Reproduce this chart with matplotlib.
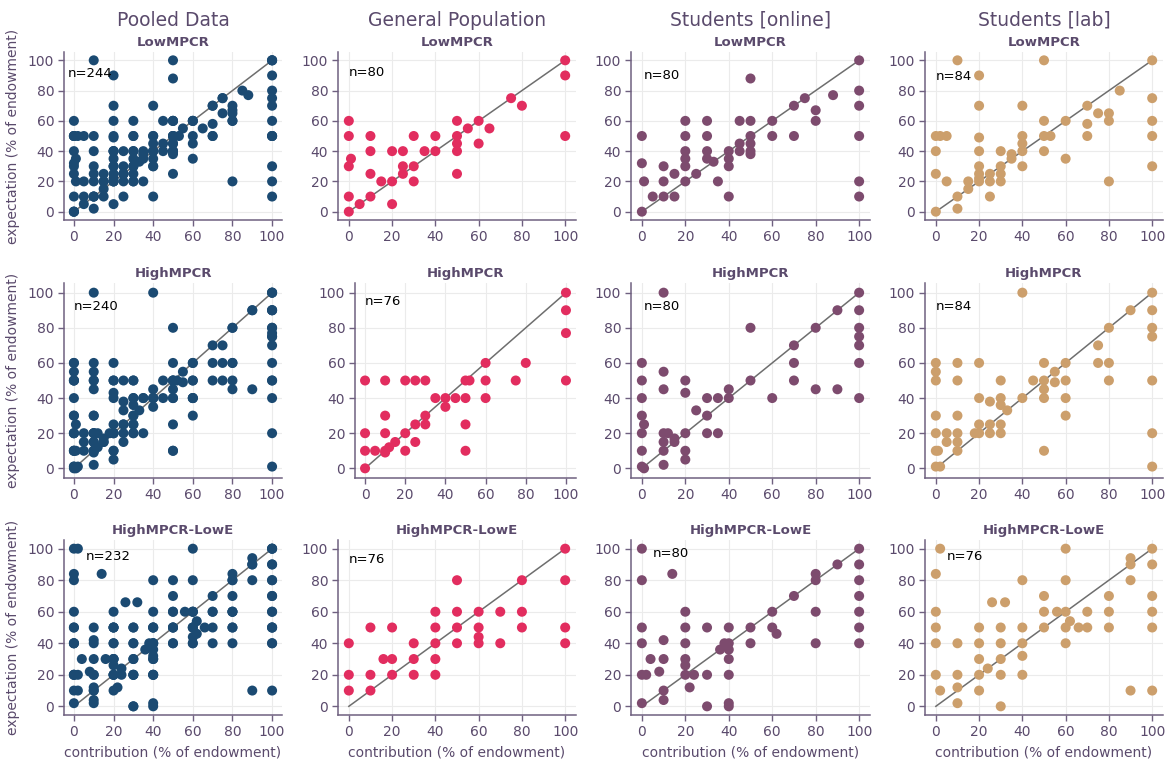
import matplotlib
matplotlib.use("Agg")
import matplotlib.pyplot as plt

# ---- data (contribution, expectation) ----
groups = ["General Population", "Students [online]", "Students [lab]"]
treatments = ["LowMPCR", "HighMPCR", "HighMPCR-LowE"]
n_obs = [[244, 80, 80, 84],
         [240, 76, 80, 84],
         [232, 76, 80, 76]]

gp_low_x = [0, 0, 0, 1, 0, 0, 5, 10, 10, 10, 10, 15, 20, 20, 20, 25, 25, 25, 30, 30, 30, 35, 40, 40,
            50, 50, 50, 50, 50, 55, 60, 60, 65, 75, 80, 100, 100, 100]
gp_low_y = [60, 50, 30, 35, 10, 0, 5, 50, 40, 25, 10, 20, 40, 20, 5, 40, 30, 25, 50, 30, 20, 40, 50, 40,
            60, 50, 45, 40, 25, 55, 60, 45, 55, 75, 70, 100, 90, 50]

on_low_x = [0, 0, 1, 0, 5, 10, 10, 10, 15, 15, 20, 20, 20, 20, 20, 20, 25, 30, 30, 30, 30, 33, 35, 40, 40,
            40, 40, 45, 45, 45, 50, 50, 50, 50, 50, 50, 60, 60, 70, 70, 75, 80, 80, 88, 100, 100, 100, 100,
            100, 100]
on_low_y = [50, 32, 20, 0, 10, 30, 20, 10, 25, 10, 60, 50, 40, 35, 30, 20, 25, 60, 50, 40, 35, 33, 20, 40, 35,
            30, 10, 60, 45, 40, 88, 60, 50, 45, 40, 38, 60, 50, 70, 50, 75, 67, 60, 77, 100, 80, 70, 50,
            20, 10]

lab_low_x = [0, 2, 0, 0, 0, 5, 5, 10, 10, 10, 15, 15, 20, 20, 20, 20, 20, 20, 20, 20, 25, 25, 25, 30, 30, 30,
             30, 35, 35, 40, 40, 40, 40, 40, 50, 50, 50, 50, 53, 60, 60, 70, 70, 70, 75, 80, 80, 80, 85, 100,
             100, 100, 100, 100]
lab_low_y = [50, 50, 40, 25, 0, 50, 20, 100, 10, 2, 20, 15, 90, 70, 49, 40, 30, 25, 22, 20, 25, 20, 10, 40, 30,
             25, 20, 38, 35, 70, 50, 45, 40, 30, 100, 60, 50, 40, 50, 60, 35, 70, 58, 50, 65, 65, 60, 20, 80,
             100, 75, 60, 50, 30]

gp_high_x = [0, 0, 0, 0, 5, 10, 10, 10, 10, 10, 12, 15, 20, 20, 20, 25, 25, 25, 30, 30, 30, 35, 40, 40, 45,
             50, 50, 50, 50, 52, 60, 60, 60, 75, 80, 100, 100, 100, 100]
gp_high_y = [50, 20, 10, 0, 10, 50, 30, 20, 10, 9, 12, 15, 50, 20, 10, 50, 25, 15, 50, 30, 25, 40, 40, 35, 40,
             50, 40, 25, 10, 50, 60, 50, 40, 50, 60, 100, 90, 77, 50]

on_high_x = [0, 0, 0, 0, 1, 0, 0, 0, 1, 10, 10, 10, 10, 12, 10, 10, 10, 15, 15, 20, 20, 20, 20, 20, 25, 30,
             30, 30, 35, 35, 40, 40, 50, 50, 60, 70, 70, 70, 80, 80, 90, 90, 100, 100, 100, 100, 100, 100,
             100]
on_high_y = [60, 50, 40, 30, 25, 20, 10, 1, 0, 100, 55, 45, 20, 20, 15, 10, 2, 17, 15, 50, 43, 20, 10, 5, 33, 40,
             30, 20, 40, 20, 45, 40, 80, 50, 40, 70, 60, 50, 80, 45, 90, 45, 100, 90, 80, 75, 70, 60,
             40]

lab_high_x = [0, 0, 0, 0, 0, 0, 1, 0, 2, 5, 5, 10, 10, 10, 10, 10, 10, 18, 20, 20, 20, 20, 25, 25, 25, 30,
              30, 30, 30, 30, 33, 40, 40, 45, 50, 50, 50, 50, 50, 55, 55, 60, 60, 60, 60, 75, 75, 80, 80, 80,
              90, 100, 100, 100, 100, 100, 100, 100]
lab_high_y = [60, 55, 50, 30, 20, 10, 10, 1, 1, 20, 15, 60, 50, 30, 20, 15, 10, 20, 60, 40, 25, 20, 38, 25, 20, 50,
              40, 36, 25, 20, 33, 100, 40, 50, 60, 50, 45, 40, 10, 55, 49, 60, 50, 40, 30, 70, 60, 80, 60, 50,
              90, 100, 90, 80, 75, 50, 20, 1]

gp_lowe_x = [0, 0, 0, 10, 10, 10, 16, 20, 20, 20, 30, 30, 30, 40, 40, 40, 40, 40, 50, 50, 50, 50, 60, 60, 60,
             60, 70, 70, 80, 80, 80, 100, 100, 100, 100]
gp_lowe_y = [40, 20, 10, 50, 20, 10, 30, 50, 30, 20, 40, 30, 20, 60, 50, 40, 30, 20, 80, 60, 50, 40, 60, 50, 44,
             40, 60, 40, 80, 60, 50, 100, 80, 50, 40]

on_lowe_x = [0, 0, 0, 0, 0, 2, 0, 4, 8, 10, 10, 10, 10, 14, 20, 20, 20, 20, 20, 20, 22, 24, 30, 30, 30, 36,
             38, 40, 40, 40, 40, 40, 40, 40, 50, 50, 60, 60, 62, 70, 80, 80, 80, 80, 90, 100, 100, 100,
             100, 100, 100, 100]
on_lowe_y = [100, 80, 50, 40, 20, 20, 2, 30, 22, 42, 30, 10, 4, 84, 60, 50, 40, 30, 26, 20, 12, 20, 50, 20, 0, 36,
             40, 50, 40, 36, 30, 20, 2, 0, 50, 40, 60, 50, 46, 70, 84, 80, 60, 40, 90, 100, 90, 80,
             70, 60, 50, 40]

lab_lowe_x = [0, 0, 0, 0, 0, 2, 2, 10, 10, 10, 10, 20, 20, 20, 20, 20, 24, 26, 30, 30, 30, 30, 30, 32, 40, 40,
              40, 40, 40, 50, 50, 50, 56, 60, 60, 60, 60, 60, 62, 66, 70, 70, 80, 80, 80, 90, 90, 90, 90,
              100, 100, 100, 100, 100, 100]
lab_lowe_y = [84, 60, 50, 40, 20, 100, 10, 40, 20, 12, 2, 50, 40, 30, 20, 10, 24, 66, 50, 40, 30, 20, 0, 66, 80, 50,
              40, 32, 20, 70, 60, 50, 60, 100, 80, 60, 50, 40, 54, 50, 60, 50, 70, 60, 50, 94, 90, 80, 10,
              100, 90, 70, 60, 50, 10]

panels = [
    [(gp_low_x, gp_low_y), (on_low_x, on_low_y), (lab_low_x, lab_low_y)],
    [(gp_high_x, gp_high_y), (on_high_x, on_high_y), (lab_high_x, lab_high_y)],
    [(gp_lowe_x, gp_lowe_y), (on_lowe_x, on_lowe_y), (lab_lowe_x, lab_lowe_y)],
]

col_titles = ["Pooled Data"] + groups
colors = ["#1b4a72", "#e22d5f", "#7d4b6e", "#cc9f6c"]
txt_col = "#5a4a6c"
ticks = [0, 20, 40, 60, 80, 100]

# ---- layout in pixels (figure is 1172 x 760) ----
W, H = 1172, 760
col_px = [(64, 218), (338, 238), (631, 239), (925, 238)]
row_px = [(52, 168), (283, 195), (540, 175)]
n_pos = [[(-3, 91), (0, 92), (1, 90), (0, 89)],
         [(0, 92), (0, 95), (1, 92), (0, 92)],
         [(6, 95), (0, 93), (5, 97), (5, 95)]]

plt.rcParams['font.family'] = ['DejaVu Sans']
fig = plt.figure(figsize=(W / 100, H / 100), dpi=100)

for r in range(3):
    top, h = row_px[r]
    for c in range(4):
        left, w = col_px[c]
        if r == 1 and c == 1:
            left, w = 355, 221
        ax = fig.add_axes([left / W, 1 - (top + h) / H, w / W, h / H])
        if c == 0:
            # pooled panel = all three samples together
            xs = [v for g in panels[r] for v in g[0]]
            ys = [v for g in panels[r] for v in g[1]]
        else:
            xs, ys = panels[r][c - 1]
        ax.plot([0, 100], [0, 100], color="#6e6e6e", lw=1.1, zorder=2)
        ax.scatter(xs, ys, s=52, color=colors[c], edgecolors="none", zorder=3)
        ax.set_xlim(-5, 105)
        ax.set_ylim(-5.5, 105.5)
        ax.set_xticks(ticks)
        ax.set_yticks(ticks)
        ax.grid(True, color="#ebebeb", lw=0.8, zorder=0)
        ax.set_axisbelow(True)
        for s in ["top", "right"]:
            ax.spines[s].set_visible(False)
        for s in ["left", "bottom"]:
            ax.spines[s].set_color("#6f6080")
            ax.spines[s].set_linewidth(1.1)
        ax.tick_params(colors="#6f6080", labelcolor=txt_col, labelsize=10, length=4, width=1.0, pad=3)
        ax.set_title(treatments[r], fontsize=9.5, fontweight="bold", color=txt_col, pad=4)
        nx, ny = n_pos[r][c]
        ax.text(nx, ny, "n=%d" % n_obs[r][c], fontsize=9.5, color="black", ha="left", va="center")
        if c == 0:
            ax.set_ylabel("expectation (% of endowment)", fontsize=10, color=txt_col, labelpad=6)
        if r == 2:
            ax.set_xlabel("contribution (% of endowment)", fontsize=10, color=txt_col, labelpad=5)
        if r == 0:
            fig.text((left + w / 2) / W, 1 - 20 / H, col_titles[c], fontsize=13.5, color=txt_col,
                     ha="center", va="center")

fig.savefig("out.png", dpi=100)
